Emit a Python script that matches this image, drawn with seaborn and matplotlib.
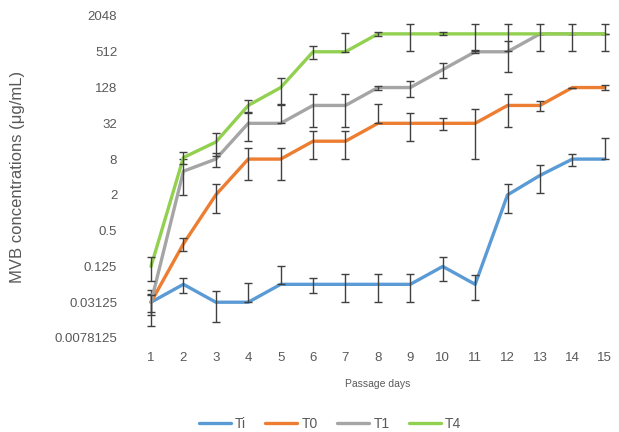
import numpy as np
import pandas as pd
import matplotlib
matplotlib.use("Agg")
import matplotlib.pyplot as plt
import seaborn as sns

# -------------------------------
# Data
# -------------------------------

days = list(range(1, 16))
series_names = ["Ti", "T0", "T1", "T4"]

ti_vals = [0.03125, 0.0625, 0.03125, 0.03125, 0.0625, 0.0625, 0.0625, 0.0625,
           0.0625, 0.125, 0.0625, 2, 4.25, 8, 8]
ti_err = [0.019, 0.017, 0.017, 0.035, 0.065, 0.017, 0.031, 0.031,
          0.031, 0.055, 0.028, 1.0, 2.1, 1.8, 10]

t0_vals = [0.03125, 0.3, 2, 8, 8, 16, 16, 32, 32, 32, 32, 64, 64, 128, 128]
t0_err = [0.012, 0.07, 1.0, 4.5, 4.5, 8, 8, 36, 16, 7.5, 24, 36, 12, 0, 12]

t1_vals = [0.03125, 5, 8, 32, 32, 64, 64, 128, 128, 256, 512, 512, 1024, 1024, 1024]
t1_err = [0.01, 3, 2, 16, 33, 36, 36, 10, 38, 70, 30, 280, 0, 0, 0]

t4_vals = [0.125, 8.5, 15.5, 64, 128, 512, 512, 1024, 1024, 1024, 1024, 1024,
           1024, 1024, 1024]
t4_err = [0.055, 2, 6.5, 15, 60, 120, 550, 80, 500, 60, 500, 500, 500, 500, 500]

y_ticks = [0.0078125, 0.03125, 0.125, 0.5, 2, 8, 32, 128, 512, 2048]

colors = {"Ti": "#5B9BD5", "T0": "#ED7D31", "T1": "#A5A5A5", "T4": "#92D050"}

values = {"Ti": ti_vals, "T0": t0_vals, "T1": t1_vals, "T4": t4_vals}
errors = {"Ti": ti_err, "T0": t0_err, "T1": t1_err, "T4": t4_err}

df = pd.concat(
    [pd.DataFrame({"day": days, "value": values[s], "err": errors[s], "series": s})
     for s in series_names],
    ignore_index=True,
)

# -------------------------------
# Plot
# -------------------------------

sns.set_style("white")
plt.rcParams["font.family"] = ["Liberation Sans", "DejaVu Sans"]

fig = plt.figure(figsize=(6.19, 4.32), dpi=100)
ax = fig.add_axes([0.223, 0.2176, 0.775, 0.7454])

for i, s in enumerate(series_names):
    sub = df[df["series"] == s]
    sns.lineplot(data=sub, x="day", y="value", color=colors[s], linewidth=2.4,
                 ax=ax, label=s, zorder=2 + 2 * i)
    v = sub["value"].to_numpy()
    e = sub["err"].to_numpy()
    # excel drops the lower bar when it would go below zero on a log axis
    lower = np.where(v - e > 0, e, 0)
    ax.errorbar(sub["day"], v, yerr=[lower, e], fmt="none", ecolor="#404040",
                elinewidth=1, capsize=3, capthick=1, zorder=3 + 2 * i)

ax.set_yscale("log", base=2)
ax.set_ylim(2 ** -7, 2 ** 11)
ax.set_xlim(0.6, 15.4)
ax.set_yticks(y_ticks)
ax.set_yticklabels([f"{t:g}" for t in y_ticks])
ax.yaxis.set_minor_locator(matplotlib.ticker.NullLocator())
ax.set_xticks(days)
ax.set_xticklabels([str(d) for d in days])

ax.tick_params(axis="both", length=0, labelsize=9.5, labelcolor="#595959")
ax.tick_params(axis="y", pad=15)
ax.tick_params(axis="x", pad=10)
for sp in ax.spines.values():
    sp.set_visible(False)

ax.set_xlabel("Passage days", fontsize=7.5, color="#595959", labelpad=11)
ax.set_ylabel("MVB concentrations (μg/mL)", fontsize=12, color="#595959")
ax.yaxis.set_label_coords(-0.235, 0.5)

ax.legend(loc="upper center", bbox_to_anchor=(0.4, -0.205), ncol=4, frameon=False,
          fontsize=10, handlelength=2.3, columnspacing=1.4, handletextpad=0.3,
          labelcolor="#595959")

fig.savefig("out.png", dpi=100)
plt.close(fig)
